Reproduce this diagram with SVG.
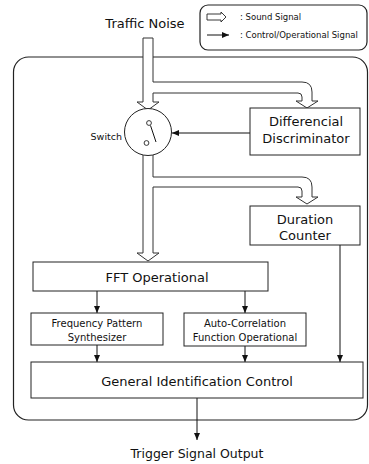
<svg xmlns="http://www.w3.org/2000/svg" width="369" height="464" viewBox="0 0 369 464">
  <style>
    .box { fill: #fff; stroke: #222; stroke-width: 1; }
    .frame { fill: none; stroke: #222; stroke-width: 1.2; }
    .pipe { fill: #fff; stroke: #333; stroke-width: 1; stroke-linejoin: miter; }
    .ctl { fill: none; stroke: #111; stroke-width: 1; }
    .lbl { font-family: "DejaVu Sans", "Liberation Sans", sans-serif; fill: #111; text-anchor: middle; }
    .big { font-size: 13px; }
    .small { font-size: 10px; }
    .leg { font-family: "DejaVu Sans", "Liberation Sans", sans-serif; font-size: 8.5px; fill: #111; }
  </style>
  <defs>
    <marker id="tip" markerUnits="userSpaceOnUse" markerWidth="7" markerHeight="6" refX="7" refY="3" orient="auto">
      <path d="M0,0 L7,3 L0,6 Z" fill="#111"/>
    </marker>
  </defs>

  <rect fill="#fff" x="0" y="0" width="369" height="464"/>

  <!-- legend -->
  <g id="legend">
    <rect class="frame" x="200" y="5" width="167" height="45" rx="8" stroke-width="1"/>
    <path d="M207,14 H221 V12 L226,17 L221,22 V20 H207 Z" fill="#fff" stroke="#222" stroke-width="0.9"/>
    <text class="leg" x="240" y="20">: Sound Signal</text>
    <line class="ctl" x1="207" y1="35" x2="229" y2="35" marker-end="url(#tip)"/>
    <text class="leg" x="240" y="38">: Control/Operational Signal</text>
  </g>

  <!-- system enclosure -->
  <rect id="enclosure" class="frame" x="13.5" y="57" width="354" height="363" rx="15"/>

  <!-- input / output labels -->
  <g id="input"><text class="lbl big" x="145" y="28">Traffic Noise</text></g>
  <g id="output"><text class="lbl" font-size="12.5" x="197" y="458">Trigger Signal Output</text></g>

  <!-- sound-signal pipes -->
  <g id="connectors">
    <path class="pipe" d="M143,38 V102 H137 L148,110 L159,102 H153 V93 H298 Q302,93 302,97 V101 H296 L307,108 L318,101 H312 V92 Q312,82 302,82 H153 V38 Z"/>
    <path class="pipe" d="M143,155 V253 H137 L148,261 L159,253 H153 V187 H298 Q302,187 302,191 V197 H296 L307,204 L318,197 H312 V187 Q312,177 302,177 H153 V155"/>

    <!-- control / operational signals -->
    <line class="ctl" x1="250" y1="133" x2="172" y2="133" marker-end="url(#tip)"/>
    <line class="ctl" x1="97" y1="291" x2="97" y2="313" marker-end="url(#tip)"/>
    <line class="ctl" x1="245" y1="291" x2="245" y2="313" marker-end="url(#tip)"/>
    <line class="ctl" x1="97" y1="345" x2="97" y2="362" marker-end="url(#tip)"/>
    <line class="ctl" x1="245" y1="346" x2="245" y2="362" marker-end="url(#tip)"/>
    <line class="ctl" x1="340" y1="245" x2="340" y2="362" marker-end="url(#tip)"/>
    <line class="ctl" x1="197" y1="398" x2="197" y2="440" marker-end="url(#tip)"/>
  </g>

  <!-- switch -->
  <g id="switch">
    <circle cx="148" cy="132" r="23.5" fill="#fff" stroke="#222" stroke-width="1"/>
    <circle cx="149" cy="123" r="2.4" fill="#fff" stroke="#222" stroke-width="0.9"/>
    <circle cx="146.5" cy="143" r="2.4" fill="#fff" stroke="#222" stroke-width="0.9"/>
    <line class="ctl" x1="150.5" y1="125.5" x2="156" y2="142"/>
    <text class="lbl" font-size="9.5" x="122" y="140" text-anchor="end" style="text-anchor:end">Switch</text>
  </g>

  <g id="differencial">
    <rect class="box" x="250" y="108" width="110" height="47"/>
    <text class="lbl big" x="306" y="126">Differencial</text>
    <text class="lbl big" x="306" y="143">Discriminator</text>
  </g>

  <g id="duration">
    <rect class="box" x="250" y="206" width="110" height="39"/>
    <text class="lbl big" x="305" y="224">Duration</text>
    <text class="lbl big" x="305" y="240">Counter</text>
  </g>

  <g id="fft">
    <rect class="box" x="33" y="262" width="235" height="29"/>
    <text class="lbl big" x="157" y="282">FFT Operational</text>
  </g>

  <g id="frequency">
    <rect class="box" x="31" y="313" width="132" height="32"/>
    <text class="lbl small" x="97" y="327">Frequency Pattern</text>
    <text class="lbl small" x="97" y="341">Synthesizer</text>
  </g>

  <g id="autocorrelation">
    <rect class="box" x="184" y="313" width="122" height="33"/>
    <text class="lbl small" x="245" y="327">Auto-Correlation</text>
    <text class="lbl small" x="245" y="341">Function Operational</text>
  </g>

  <g id="identification">
    <rect class="box" x="31" y="362" width="332" height="36"/>
    <text class="lbl big" x="197" y="386">General Identification Control</text>
  </g>
</svg>
